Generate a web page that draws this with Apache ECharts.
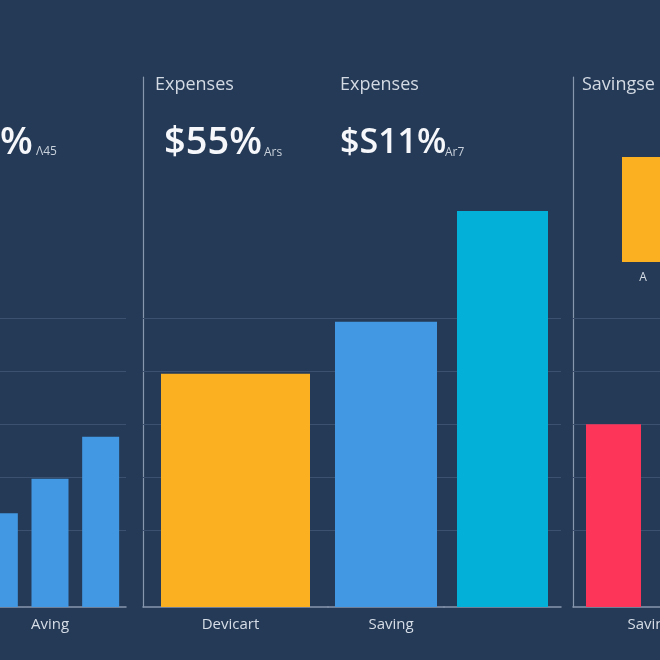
<!DOCTYPE html>
<html><head><meta charset="utf-8">
<script src="https://cdn.jsdelivr.net/npm/echarts@6/dist/echarts.min.js"></script>
<style>html,body{margin:0;padding:0;background:#253a56}#c{width:660px;height:660px}</style>
</head><body><div id="c"></div>
<script>
// ---- data ----
const panel1Categories = ['', 'Aving', ''];
const panel1Values = [1.77, 2.42, 3.21];
const panel2Categories = ['Devicart', 'Saving', ''];
const panel2Values = [4.40, 5.38, 7.47];
const panel3Categories = ['Saving', ''];
const panel3Values = [3.45, 4.17];
const insetCategories = ['A', ''];
const insetRange = [6.5, 8.5];
const gridLineValues = [1.45, 2.45, 3.45, 4.45, 5.45];
const headerTitles = ['Expenses', 'Expenses', 'Savingse'];
const headerBig = ['%', '$55%', '$S11%'];
const headerSmall = ['Λ45', 'Ars', 'Ar7'];

// ---- styles ----
const FONT = 'Open Sans';
const BG = '#253a56';
const AXIS = '#8797ad';
const GRIDC = '#3c516f';
const LABEL = '#d6dde7';
const YELLOW = '#fbb022', BLUE = '#4298e2', CYAN = '#03b1d8', RED = '#fd3659', MAGENTA = '#d3366c';
const yMax = 10;

const gridsPos = [
  {left: -26, top: 77, width: 152, height: 530},
  {left: 143, top: 77, width: 185, height: 530},
  {left: 328, top: 77, width: 116, height: 530},
  {left: 444, top: 77, width: 117, height: 530},
  {left: 573, top: 77, width: 162, height: 530},
  {left: 622, top: 157, width: 84, height: 105}
];
const grid = gridsPos.map(g => Object.assign({outerBoundsMode: 'none', containLabel: false}, g));

function xAx(i, data, extraLabel) {
  return {
    type: 'category', gridIndex: i, data: data,
    axisLine: {show: i !== 5, lineStyle: {color: AXIS, width: 1.5}},
    axisTick: {show: false},
    axisLabel: Object.assign({color: LABEL, fontSize: 15, fontFamily: FONT, margin: 10, interval: 0}, extraLabel || {})
  };
}
function yAx(i, showLine, min, max) {
  return {
    type: 'value', gridIndex: i, min: min, max: max,
    axisLine: {show: showLine, lineStyle: {color: AXIS, width: 1.2}},
    axisTick: {show: false}, axisLabel: {show: false}, splitLine: {show: false}
  };
}
const gridMarks = {
  silent: true, symbol: 'none', z: 1,
  label: {show: false},
  lineStyle: {color: GRIDC, width: 1.2, type: 'solid'},
  data: gridLineValues.map(v => ({yAxis: v}))
};

const xAxis = [
  xAx(0, panel1Categories),
  xAx(1, [panel2Categories[0]], {padding: [0, 10, 0, 0]}),
  xAx(2, [panel2Categories[1]], {padding: [0, 0, 0, 10]}),
  xAx(3, [panel2Categories[2]]),
  xAx(4, panel3Categories, {align: 'left', padding: [0, 0, 0, 14]}),
  xAx(5, insetCategories, {fontSize: 12, margin: 10})
];
const yAxis = [
  yAx(0, false, 0, yMax),
  yAx(1, true, 0, yMax),
  yAx(2, false, 0, yMax),
  yAx(3, false, 0, yMax),
  yAx(4, true, 0, yMax),
  yAx(5, false, insetRange[0], insetRange[1])
];

const series = [
  {type: 'bar', xAxisIndex: 0, yAxisIndex: 0, barWidth: 37, itemStyle: {color: BLUE}, data: panel1Values, markLine: gridMarks},
  {type: 'bar', xAxisIndex: 1, yAxisIndex: 1, barWidth: 149, itemStyle: {color: YELLOW}, data: [panel2Values[0]], markLine: gridMarks},
  {type: 'bar', xAxisIndex: 2, yAxisIndex: 2, barWidth: 102, itemStyle: {color: BLUE}, data: [panel2Values[1]], markLine: gridMarks},
  {type: 'bar', xAxisIndex: 3, yAxisIndex: 3, barWidth: 91, itemStyle: {color: CYAN}, data: [panel2Values[2]], markLine: gridMarks},
  {type: 'bar', xAxisIndex: 4, yAxisIndex: 4, barWidth: 55,
   data: panel3Values.map((v, k) => ({value: v, itemStyle: {color: k === 0 ? RED : MAGENTA}})), markLine: gridMarks},
  {type: 'bar', xAxisIndex: 5, yAxisIndex: 5, barWidth: 42, itemStyle: {color: YELLOW}, data: [insetRange[1], '-']}
];

const titlePos = {
  head: [{left: 155, top: 76}, {left: 340, top: 76}, {left: 582, top: 76}],
  big: [{left: 0, top: 124, size: 38}, {left: 164, top: 124, size: 38}, {left: 340, top: 126, size: 34}],
  small: [{left: 36, top: 146}, {left: 264, top: 147}, {left: 445, top: 147}]
};
const title = [];
headerTitles.forEach((t, k) => title.push({text: t, left: titlePos.head[k].left, top: titlePos.head[k].top, padding: 0,
  textStyle: {color: '#d3dae4', fontSize: 18, fontWeight: 'normal', fontFamily: FONT}}));
headerBig.forEach((t, k) => title.push({text: t, left: titlePos.big[k].left, top: titlePos.big[k].top, padding: 0,
  textStyle: {color: '#f5f7fa', fontSize: titlePos.big[k].size, fontWeight: 600, fontFamily: FONT}}));
headerSmall.forEach((t, k) => title.push({text: t, left: titlePos.small[k].left, top: titlePos.small[k].top, padding: 0,
  textStyle: {color: '#c9d1dc', fontSize: 12, fontWeight: 'normal', fontFamily: FONT}}));

const chart = echarts.init(document.getElementById('c'), null, {renderer: 'canvas'});
chart.setOption({
  backgroundColor: BG,
  animation: false,
  title: title,
  grid: grid,
  xAxis: xAxis,
  yAxis: yAxis,
  series: series
});
</script></body></html>
